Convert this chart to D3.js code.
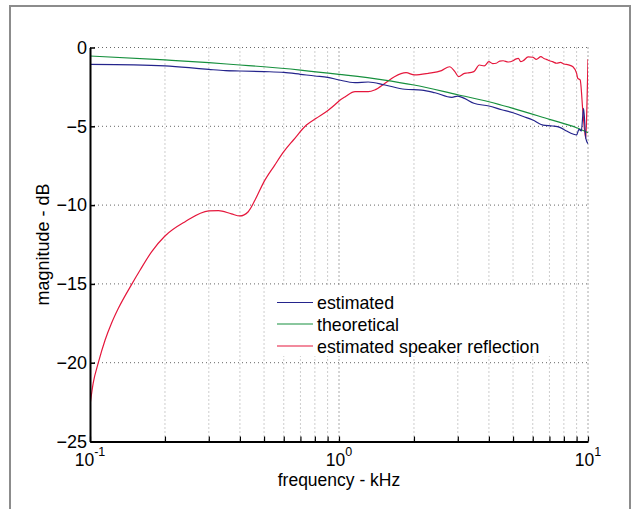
<!DOCTYPE html>
<html>
<head>
<meta charset="utf-8">
<script src="https://cdn.jsdelivr.net/npm/d3@7"></script>
<style>
  html, body { margin: 0; padding: 0; background: #fff; }
  svg { display: block; font-family: "Liberation Sans", Arial, Helvetica, sans-serif; }
</style>
</head>
<body>
<div id="chart"></div>
<script>
// frequency (kHz) and magnitude (dB)
const estFreq = [0.1, 0.15, 0.2, 0.25, 0.3, 0.35, 0.4, 0.5, 0.6, 0.7, 0.8, 0.9, 1.0, 1.16, 1.31, 1.53, 1.84, 2.15, 2.43, 2.84, 3.0, 3.19, 3.48, 4.0, 4.5, 5.0, 5.5, 6.0, 6.6, 7.2, 7.7, 8.2, 8.7, 9.0, 9.2, 9.4, 9.6, 9.8, 10.0];
const estDb   = [-1.07, -1.1, -1.17, -1.28, -1.39, -1.47, -1.49, -1.53, -1.58, -1.7, -1.81, -1.89, -2.06, -2.23, -2.19, -2.38, -2.65, -2.7, -2.87, -3.16, -3.08, -3.23, -3.54, -3.71, -3.95, -4.14, -4.38, -4.6, -4.92, -4.98, -5.07, -5.3, -5.49, -5.55, -5.19, -5.3, -3.86, -5.76, -6.1];

const theoFreq = [0.1, 0.2, 0.3, 0.4, 0.5, 0.7, 1.0, 1.5, 2.0, 3.0, 4.0, 5.0, 7.0, 9.0, 10.0];
const theoDb   = [-0.54, -0.79, -0.96, -1.11, -1.22, -1.43, -1.7, -2.05, -2.38, -3.0, -3.44, -3.86, -4.56, -5.09, -5.4];

const reflFreq = [0.1, 0.103, 0.108, 0.115, 0.122, 0.13, 0.147, 0.159, 0.177, 0.2, 0.241, 0.3, 0.328, 0.37, 0.4, 0.432, 0.46, 0.5, 0.552, 0.6, 0.656, 0.74, 0.81, 0.9, 0.96, 1.0, 1.06, 1.16, 1.31, 1.39, 1.53, 1.67, 1.86, 2.01, 2.28, 2.58, 2.78, 2.92, 3.02, 3.19, 3.27, 3.48, 3.66, 3.83, 4.0, 4.14, 4.28, 4.42, 4.56, 4.78, 5.0, 5.12, 5.25, 5.37, 5.49, 5.75, 6.0, 6.2, 6.47, 6.65, 6.8, 7.0, 7.2, 7.48, 7.75, 8.0, 8.35, 8.7, 9.0, 9.1, 9.3, 9.55, 9.8, 9.9, 10.0];
const reflDb   = [-22.7, -21.3, -20.0, -18.56, -17.5, -16.55, -15.03, -14.12, -12.95, -11.96, -11.05, -10.37, -10.35, -10.56, -10.69, -10.42, -9.68, -8.51, -7.46, -6.61, -5.87, -4.92, -4.49, -4.01, -3.65, -3.39, -3.12, -2.8, -2.8, -2.7, -2.27, -1.85, -1.6, -1.74, -1.64, -1.47, -1.22, -1.53, -1.85, -1.64, -1.62, -1.53, -1.11, -1.17, -0.9, -1.02, -1.0, -0.86, -0.84, -0.92, -0.84, -0.74, -0.69, -0.9, -0.84, -0.6, -0.62, -0.75, -0.58, -0.7, -0.75, -0.84, -0.9, -1.0, -0.95, -1.05, -1.1, -1.22, -1.64, -1.96, -2.06, -4.18, -5.76, -3.75, -0.75];

const yTicks = [0, -5, -10, -15, -20, -25];
const xMajor = [0.1, 1, 10];
const xMajorExp = ["-1", "0", "1"];
const xMinor = [0.2, 0.3, 0.4, 0.5, 0.6, 0.7, 0.8, 0.9, 2, 3, 4, 5, 6, 7, 8, 9];

const seriesNames = ["estimated", "theoretical", "estimated speaker reflection"];
const seriesColors = ["#24248c", "#17903e", "#e5173c"];

const W = 634, H = 509;
const svg = d3.select("#chart").append("svg").attr("width", W).attr("height", H);

// figure frame
svg.append("rect").attr("x", 10).attr("y", 6).attr("width", 620).attr("height", 520)
  .attr("fill", "#fff").attr("stroke", "#8c8c8c").attr("stroke-width", 2);

const x = d3.scaleLog().domain([0.1, 10]).range([90, 588]);
const y = d3.scaleLinear().domain([-25, 0]).range([441.5, 47.5]);

// grid
const grid = svg.append("g").attr("fill", "none");
const allX = xMajor.concat(xMinor);
grid.selectAll("line.vx").data(allX.filter(d => d > 0.1)).enter().append("line")
  .attr("x1", d => x(d)).attr("x2", d => x(d))
  .attr("y1", y(0)).attr("y2", y(-25))
  .attr("stroke", d => xMajor.includes(d) ? "#555" : "#9a9a9a")
  .attr("stroke-width", 1).attr("stroke-dasharray", "1,3");
grid.selectAll("line.hy").data(yTicks.filter(d => d > -25)).enter().append("line")
  .attr("x1", x(0.1)).attr("x2", x(10))
  .attr("y1", d => y(d)).attr("y2", d => y(d))
  .attr("stroke", "#666").attr("stroke-width", 1).attr("stroke-dasharray", "1,3");

// curves
const line = d3.line().x(d => x(d[0])).y(d => y(d[1])).curve(d3.curveMonotoneX);
const series = [
  d3.zip(estFreq, estDb),
  d3.zip(theoFreq, theoDb),
  d3.zip(reflFreq, reflDb)
];
svg.append("defs").append("clipPath").attr("id", "clip")
  .append("rect").attr("x", 90).attr("y", 47.5).attr("width", 498).attr("height", 394);
const plot = svg.append("g").attr("clip-path", "url(#clip)");
// reflection underneath, estimated on top
[2, 1, 0].forEach(i => {
  plot.append("path").datum(series[i])
    .attr("d", line).attr("fill", "none")
    .attr("stroke", seriesColors[i]).attr("stroke-width", 1.2);
});

// axes
const yAxis = d3.axisLeft(y).tickValues(yTicks).tickSizeInner(-5).tickSizeOuter(0)
  .tickPadding(3).tickFormat(d3.format("d"));
const gy = svg.append("g").attr("transform", `translate(${x(0.1)},0)`).call(yAxis);
gy.select(".domain").attr("stroke", "#000").attr("stroke-width", 2);
gy.selectAll(".tick line").attr("stroke", "#000").attr("stroke-width", 1.5);
gy.selectAll(".tick text").attr("font-size", 18).attr("fill", "#000")
  .attr("font-family", "Liberation Sans, Arial, sans-serif");

const xAxis = d3.axisBottom(x).tickValues(allX).tickSizeInner(-5).tickSizeOuter(0).tickFormat("");
const gx = svg.append("g").attr("transform", `translate(0,${y(-25)})`).call(xAxis);
gx.select(".domain").attr("stroke", "#000").attr("stroke-width", 2);
gx.selectAll(".tick line").attr("stroke", "#000").attr("stroke-width", 1.2);

// x major tick labels with exponents
xMajor.forEach((v, i) => {
  const t = svg.append("text").attr("x", x(v)).attr("y", 465.5)
    .attr("text-anchor", "middle").attr("font-size", 17.5).attr("fill", "#000");
  t.append("tspan").text("10");
  t.append("tspan").attr("dy", -10).attr("font-size", 12.5).text(xMajorExp[i]);
});

// axis titles
svg.append("text").attr("x", x(1)).attr("y", 486).attr("text-anchor", "middle")
  .attr("font-size", 17.5).attr("fill", "#000").text("frequency - kHz");
svg.append("text").attr("transform", `translate(49,${(y(0) + y(-25)) / 2}) rotate(-90)`)
  .attr("text-anchor", "middle").attr("font-size", 18).attr("fill", "#000")
  .text("magnitude - dB");

// legend
const lg = svg.append("g");
lg.append("rect").attr("x", 266).attr("y", 287).attr("width", 287).attr("height", 69).attr("fill", "#fff");
const rowY = [302.5, 324, 346];
seriesNames.forEach((name, i) => {
  lg.append("line").attr("x1", 277).attr("x2", 313).attr("y1", rowY[i]).attr("y2", rowY[i])
    .attr("stroke", seriesColors[i]).attr("stroke-width", 1.2);
  lg.append("text").attr("x", 317).attr("y", rowY[i] + 6.5).attr("font-size", 17.8)
    .attr("fill", "#000").text(name);
});
</script>
</body>
</html>
